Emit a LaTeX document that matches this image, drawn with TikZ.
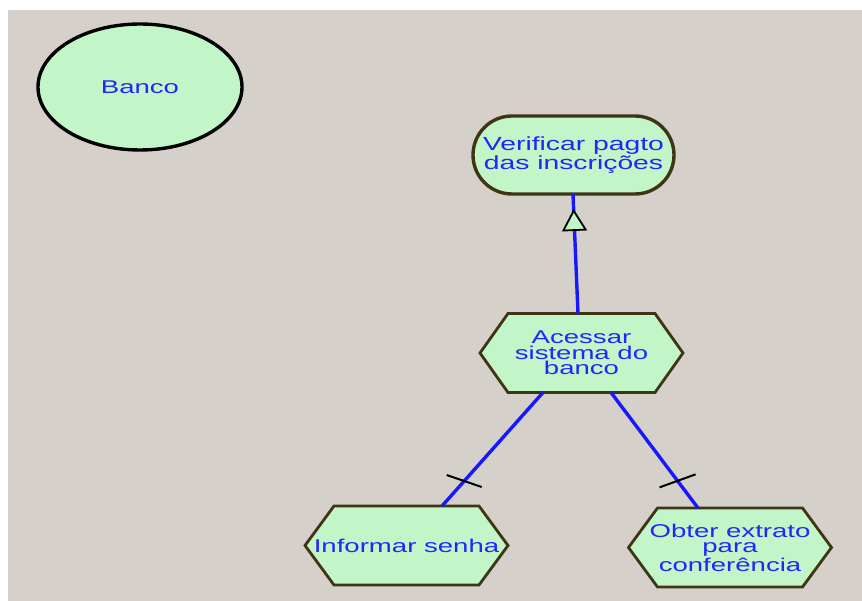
\documentclass[tikz,border=0pt]{standalone}
\usepackage{fontspec}
\setmainfont{Liberation Sans}[FakeStretch=1.49]
\usetikzlibrary{shapes.geometric,shapes.misc,arrows.meta,decorations.markings,backgrounds}

\definecolor{canvas}{RGB}{213,209,202}
\definecolor{mint}{RGB}{194,246,200}
\definecolor{rim}{RGB}{62,54,18}
\definecolor{labelblue}{RGB}{36,36,255}
\definecolor{linkblue}{RGB}{24,24,255}

\tikzset{
  every node/.style={inner sep=0pt, outer sep=0pt, text=labelblue, align=center,
    font=\fontsize{18.5}{15.5}\selectfont},
  actor/.style={ellipse, draw=black, fill=mint, line width=3.4pt,
    minimum width=204pt, minimum height=126pt},
  goal/.style={rounded rectangle, draw=rim, fill=mint, line width=3.4pt,
    minimum width=201pt, minimum height=78pt, font=\fontsize{19}{18.5}\selectfont},
  taskbox/.style={minimum width=203pt, minimum height=79pt},
  hexfill/.style={draw=rim, fill=mint, line width=2.8pt, line join=miter},
  link/.style={draw=linkblue, line width=3.4pt},
  tick/.style={draw=black, line width=2pt},
  refines/.style={link, postaction={decorate}, decoration={markings,
    mark=at position -15pt with {\arrow[black, line width=1.8pt]{Triangle[length=22pt, width=25pt, fill=mint]}}}}
}

% hexagonal outline behind a task node; #2 is the bevel depth
\newcommand\taskhex[2]{%
  \path[hexfill] ([xshift=#2]#1.north west) -- ([xshift=-#2]#1.north east) -- (#1.east)
    -- ([xshift=-#2]#1.south east) -- ([xshift=#2]#1.south west) -- (#1.west) -- cycle;}

\begin{document}
\begin{tikzpicture}[x=1pt, y=-1pt]
  \useasboundingbox (0,0) rectangle (862,601);

  \node[actor] (banco) at (140,87) {Banco};
  \node[goal] (verificar) at (573.5,155) {Verificar pagto\\das inscrições};

  \node[taskbox] (acessar) at (581.5,353) {Acessar\\sistema do\\banco};
  \node[taskbox] (informar) at (406.5,545.5) {Informar senha};
  \node[taskbox] (obter) at (730,547.5) {Obter extrato\\para\\conferência};

  \begin{pgfonlayer}{background}
    \fill[white] (0,0) rectangle (862,601);
    \fill[canvas] (8,10) rectangle (862,601);
    \taskhex{acessar}{28pt}
    \taskhex{informar}{29pt}
    \taskhex{obter}{29pt}
  \end{pgfonlayer}

  % refinement towards the goal
  \draw[refines] ([xshift=-3.5pt]acessar.north) -- ([xshift=-0.5pt]verificar.south);

  % decomposition links with their tick marks
  \draw[link] ([xshift=-38.5pt]acessar.south) -- ([xshift=35.5pt]informar.north)
    coordinate[pos=0.78] (tickA);
  \draw[link] ([xshift=29.5pt]acessar.south) -- ([xshift=-32pt]obter.north)
    coordinate[pos=0.765] (tickB);
  \draw[tick] ([shift={(-17.5,-6)}]tickA) -- ([shift={(17.5,6)}]tickA);
  \draw[tick] ([shift={(-18,6.5)}]tickB) -- ([shift={(18,-6.5)}]tickB);
\end{tikzpicture}
\end{document}
